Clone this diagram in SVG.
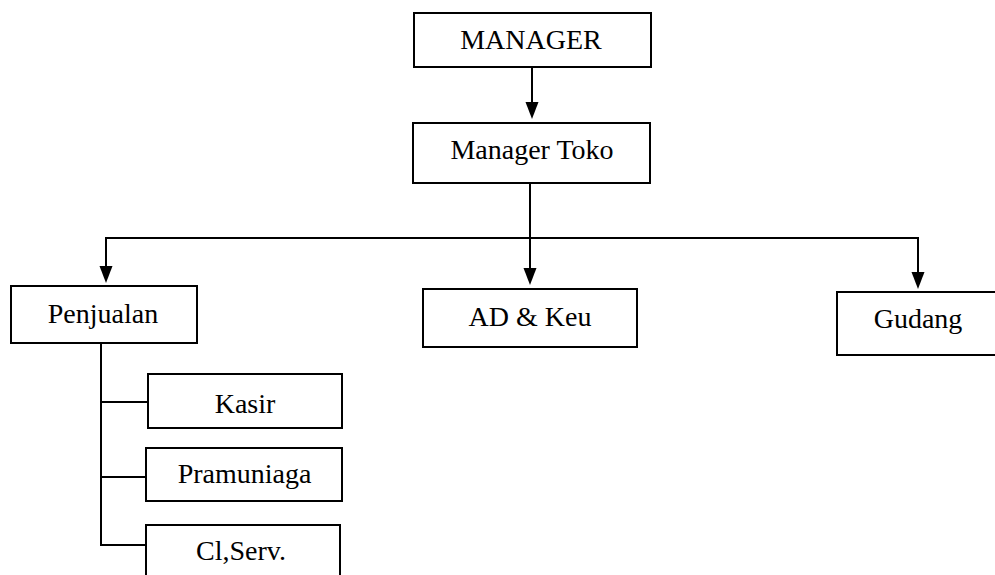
<svg xmlns="http://www.w3.org/2000/svg" width="995" height="575" viewBox="0 0 995 575">
<style>
.box{fill:#fff;stroke:#000;stroke-width:2}
.lbl{font-family:"Liberation Serif","Times New Roman",serif;font-size:28px;fill:#000;text-anchor:middle}
.ln{fill:none;stroke:#000;stroke-width:2}
.ah{fill:#000;stroke:none}
</style>
<rect width="995" height="575" fill="#fff"/>
<g id="connectors">
<line class="ln" x1="532" y1="67" x2="532" y2="104"/>
<polygon class="ah" points="525.5,102 538.5,102 532,119"/>
<line class="ln" x1="530" y1="183" x2="530" y2="238"/>
<path class="ln" d="M106,268 V238 H918 V274"/>
<line class="ln" x1="530" y1="238" x2="530" y2="270"/>
<polygon class="ah" points="99.5,266 112.5,266 106,283"/>
<polygon class="ah" points="523.5,268 536.5,268 530,285"/>
<polygon class="ah" points="911.5,272 924.5,272 918,289"/>
<path class="ln" d="M101,343 V545 H146"/>
<line class="ln" x1="101" y1="402" x2="148" y2="402"/>
<line class="ln" x1="101" y1="477" x2="146" y2="477"/>
</g>
<g id="manager">
<rect class="box" x="414" y="13" width="237" height="54"/>
<text class="lbl" x="531" y="49">MANAGER</text>
</g>
<g id="manager-toko">
<rect class="box" x="413" y="123" width="237" height="60"/>
<text class="lbl" x="532" y="159">Manager Toko</text>
</g>
<g id="penjualan">
<rect class="box" x="11" y="286" width="186" height="57"/>
<text class="lbl" x="103" y="323">Penjualan</text>
</g>
<g id="ad-keu">
<rect class="box" x="423" y="289" width="214" height="58"/>
<text class="lbl" x="530" y="326">AD &amp; Keu</text>
</g>
<g id="gudang">
<rect class="box" x="837" y="292" width="170" height="63"/>
<text class="lbl" x="918" y="328">Gudang</text>
</g>
<g id="kasir">
<rect class="box" x="148" y="374" width="194" height="54"/>
<text class="lbl" x="245" y="413">Kasir</text>
</g>
<g id="pramuniaga">
<rect class="box" x="146" y="448" width="196" height="53"/>
<text class="lbl" x="244.5" y="483">Pramuniaga</text>
</g>
<g id="cl-serv">
<rect class="box" x="146" y="525" width="194" height="60"/>
<text class="lbl" x="241" y="560">Cl,Serv.</text>
</g>
</svg>
